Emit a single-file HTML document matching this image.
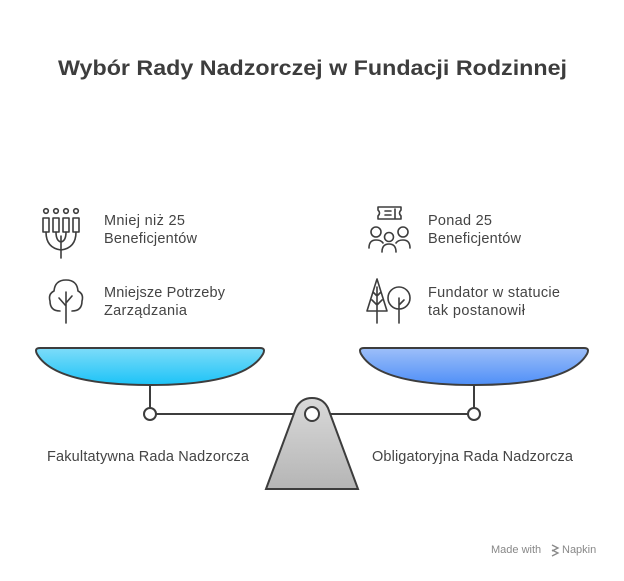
<!DOCTYPE html>
<html><head><meta charset="utf-8"><style>
body{margin:0;background:#fff;width:624px;height:576px;overflow:hidden;font-family:"Liberation Sans",sans-serif;}
</style></head><body>
<svg width="624" height="576" viewBox="0 0 624 576" xmlns="http://www.w3.org/2000/svg" font-family="Liberation Sans, sans-serif">
<defs>
<linearGradient id="gl" x1="0" y1="0" x2="0" y2="1"><stop offset="0" stop-color="#7ddcf9"/><stop offset="1" stop-color="#1cc3f7"/></linearGradient>
<linearGradient id="gr" x1="0" y1="0" x2="0" y2="1"><stop offset="0" stop-color="#9dbff9"/><stop offset="1" stop-color="#4f8ff7"/></linearGradient>
<linearGradient id="gf" x1="0" y1="0" x2="0" y2="1"><stop offset="0" stop-color="#d9d9d9"/><stop offset="1" stop-color="#b5b5b5"/></linearGradient>
</defs>
<text x="58" y="75" font-size="21" font-weight="bold" fill="#3d3d3d" textLength="509" lengthAdjust="spacingAndGlyphs">Wybór Rady Nadzorczej w Fundacji Rodzinnej</text>

<g fill="none" stroke="#3d3d3d" stroke-width="1.6" stroke-linecap="round" stroke-linejoin="round">
<circle cx="46" cy="211" r="2.3"/><circle cx="56" cy="211" r="2.3"/><circle cx="66" cy="211" r="2.3"/><circle cx="76" cy="211" r="2.3"/>
<rect x="43" y="218" width="6" height="14"/><rect x="53" y="218" width="6" height="14"/><rect x="63" y="218" width="6" height="14"/><rect x="73" y="218" width="6" height="14"/>
<path d="M46 232 Q46 248 61 250 Q76 248 76 232 M56 232 Q56 241 61 242 Q66 241 66 232 M61 236 V258"/>
<path d="M66 323 V292 M66 306 L59 298 M66 303 L72 296 M60 311 Q50 311 50 301 Q48 294 54 291 Q55 280 66 280 Q77 280 78 291 Q84 294 82 301 Q82 311 72 311"/>
<path d="M378 207 H401 V210 Q398 213 401 216 V219 H378 V216 Q381 213 378 210 Z M385 211 H391 M385 215 H391 M395 209 V218"/>
<circle cx="376" cy="232" r="5"/><circle cx="403" cy="232" r="5"/><circle cx="389" cy="237" r="4.5"/>
<path d="M369 248 Q369 240 376 240 Q381 240 383 243 M410 248 Q410 240 403 240 Q398 240 396 243 M382 252 Q382 244 389 244 Q396 244 396 252"/>
<path d="M377 279 L367 311 H387 Z M377 287 V323 M372 300 L377 305 L382 300 M373 292 L377 296 L381 292"/>
<circle cx="399" cy="298" r="11"/><path d="M399 298 V323 M399 305 L404 300"/>
</g>

<g font-size="14.5" fill="#444" lengthAdjust="spacingAndGlyphs">
<text x="104" y="225" textLength="81">Mniej niż 25</text><text x="104" y="243" textLength="93">Beneficjentów</text>
<text x="104" y="297" textLength="121">Mniejsze Potrzeby</text><text x="104" y="315" textLength="83">Zarządzania</text>
<text x="428" y="225" textLength="64">Ponad 25</text><text x="428" y="243" textLength="93">Beneficjentów</text>
<text x="428" y="297" textLength="132">Fundator w statucie</text><text x="428" y="315" textLength="97">tak postanowił</text>
<text x="47" y="461" textLength="202">Fakultatywna Rada Nadzorcza</text>
<text x="372" y="461" textLength="201">Obligatoryjna Rada Nadzorcza</text>
</g>

<g stroke="#3d3d3d" stroke-width="2">
<path d="M150 385 V408 M474 385 V408 M156 414 H305 M319 414 H468" fill="none"/>
<path d="M40 348 H260 Q266 348 263 354 Q245 385 150 385 Q55 385 37 354 Q34 348 40 348 Z" fill="url(#gl)"/>
<path d="M364 348 H584 Q590 348 587 354 Q569 385 474 385 Q379 385 361 354 Q358 348 364 348 Z" fill="url(#gr)"/>
<path d="M266 489 L296 408 Q301 398 312 398 Q323 398 328 408 L358 489 Z" fill="url(#gf)"/>
<circle cx="150" cy="414" r="6" fill="#fff"/>
<circle cx="474" cy="414" r="6" fill="#fff"/>
<circle cx="312" cy="414" r="7" fill="#fff"/>
</g>
<text x="491" y="553" font-size="11" fill="#888">Made with</text>
<path d="M552 545 l6 3 -6 3 M552 550 l6 3 -6 3" stroke="#888" fill="none" stroke-width="1.3"/>
<text x="562" y="553" font-size="11" fill="#888">Napkin</text>
</svg>
</body></html>
